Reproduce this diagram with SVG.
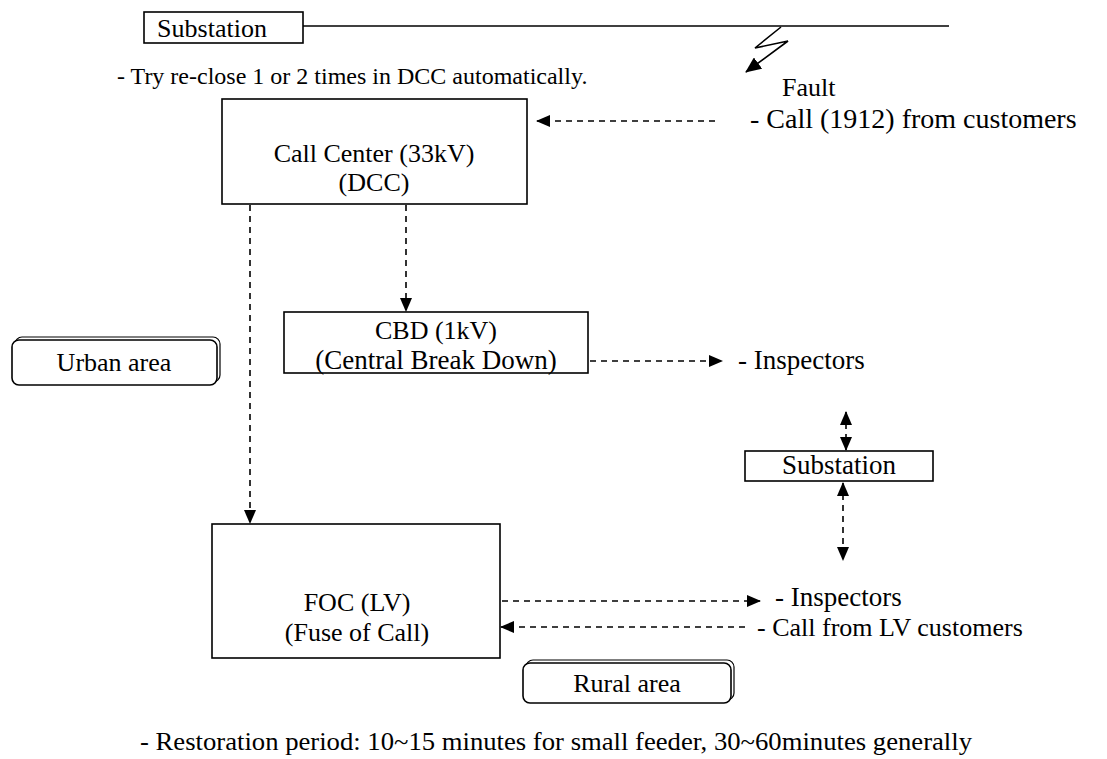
<svg xmlns="http://www.w3.org/2000/svg" width="1107" height="759" viewBox="0 0 1107 759">
<style>
text{font-family:"Liberation Serif","Times New Roman",serif;font-size:26px;fill:#000}
.box{fill:#fff;stroke:#000;stroke-width:1.6}
.area{fill:#fff;stroke:#000;stroke-width:1.6}
.shadow{fill:none;stroke:#000;stroke-width:1.2}
.dash{fill:none;stroke:#000;stroke-width:1.6;stroke-dasharray:6,5}
.solid{fill:none;stroke:#000;stroke-width:1.6}
.mid{text-anchor:middle}
</style>
<defs>
<marker id="ah" markerWidth="14" markerHeight="12" refX="13" refY="6" orient="auto-start-reverse" markerUnits="userSpaceOnUse">
<path d="M0,0 L14,6 L0,12 Z" fill="#000"/>
</marker>
<marker id="ah2" markerWidth="16" markerHeight="14" refX="15" refY="7" orient="auto" markerUnits="userSpaceOnUse">
<path d="M0,0 L16,7 L0,14 Z" fill="#000"/>
</marker>
</defs>

<g id="connectors">
<line class="solid" x1="303" y1="26" x2="949" y2="26"/>
<polyline class="solid" points="781,27 755,48 788,41 746,72" marker-end="url(#ah2)"/>
<line class="dash" x1="715" y1="121" x2="537" y2="121" marker-end="url(#ah)"/>
<line class="dash" x1="406" y1="205" x2="406" y2="311" marker-end="url(#ah)"/>
<line class="dash" x1="250" y1="205" x2="250" y2="523" marker-end="url(#ah)"/>
<line class="dash" x1="590" y1="361" x2="722" y2="361" marker-end="url(#ah)"/>
<line class="dash" x1="846" y1="412" x2="846" y2="450" marker-start="url(#ah)" marker-end="url(#ah)"/>
<line class="dash" x1="843" y1="483" x2="843" y2="560" marker-start="url(#ah)" marker-end="url(#ah)"/>
<line class="dash" x1="502" y1="601" x2="760" y2="601" marker-end="url(#ah)"/>
<line class="dash" x1="745" y1="627" x2="501" y2="627" marker-end="url(#ah)"/>
</g>

<g id="substation-top">
<rect class="box" x="144" y="12" width="159" height="31"/>
<text class="mid" x="212" y="37">Substation</text>
</g>

<g id="fault-label">
<text x="782" y="96">Fault</text>
</g>

<g id="reclose-note">
<text x="117" y="84" style="font-size:24px">- Try re-close 1 or 2 times in DCC automatically.</text>
</g>

<g id="call-center">
<rect class="box" x="222" y="99" width="305" height="105"/>
<text class="mid" x="374" y="162">Call Center (33kV)</text>
<text class="mid" x="374" y="191">(DCC)</text>
</g>

<g id="call-customers">
<text x="750" y="128" style="font-size:28px">- Call (1912) from customers</text>
</g>

<g id="urban-area">
<rect class="shadow" x="15" y="337" width="205" height="45" rx="7"/>
<rect class="area" x="12" y="340" width="205" height="45" rx="7"/>
<text class="mid" x="114" y="371">Urban area</text>
</g>

<g id="cbd">
<rect class="box" x="284" y="312" width="304" height="61"/>
<text class="mid" x="436" y="339">CBD (1kV)</text>
<text class="mid" x="436" y="369" style="font-size:27px">(Central Break Down)</text>
</g>

<g id="inspectors-1">
<text x="738" y="369" style="font-size:27px">- Inspectors</text>
</g>

<g id="substation-mid">
<rect class="box" x="745" y="451" width="188" height="30"/>
<text class="mid" x="839" y="474" style="font-size:27px">Substation</text>
</g>

<g id="foc">
<rect class="box" x="212" y="524" width="288" height="134"/>
<text class="mid" x="357" y="611">FOC (LV)</text>
<text class="mid" x="357" y="641">(Fuse of Call)</text>
</g>

<g id="inspectors-2">
<text x="775" y="606" style="font-size:27px">- Inspectors</text>
</g>

<g id="call-lv">
<text x="757" y="636">- Call from LV customers</text>
</g>

<g id="rural-area">
<rect class="shadow" x="526" y="660" width="208" height="40" rx="7"/>
<rect class="area" x="523" y="663" width="208" height="40" rx="7"/>
<text class="mid" x="627" y="692">Rural area</text>
</g>

<g id="restoration-note">
<text x="140" y="750" textLength="832" lengthAdjust="spacingAndGlyphs">- Restoration period: 10~15 minutes for small feeder, 30~60minutes generally</text>
</g>
</svg>
